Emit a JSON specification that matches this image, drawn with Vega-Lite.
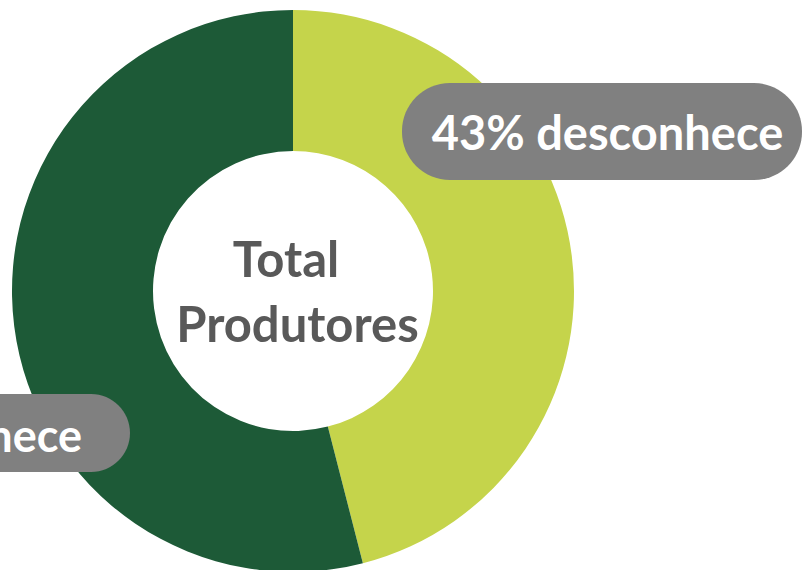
{
  "$schema": "https://vega.github.io/schema/vega-lite/v6.json",
  "width": 802,
  "height": 570,
  "autosize": {"type": "none"},
  "padding": 0,
  "background": "#ffffff",
  "config": {"view": {"stroke": null}},
  "data": {"values": [
    {"resposta": "desconhece", "valor": 46, "rotulo": "43% desconhece"},
    {"resposta": "conhece", "valor": 54, "rotulo": "57% conhece"}
  ]},
  "layer": [
    {
      "mark": {"type": "arc", "outerRadius": 281, "innerRadius": 140},
      "encoding": {
        "theta": {"field": "valor", "type": "quantitative", "stack": true},
        "order": {"field": "valor", "type": "quantitative", "sort": "ascending"},
        "color": {"field": "resposta", "type": "nominal", "legend": null,
          "scale": {"domain": ["desconhece", "conhece"], "range": ["#C5D44B", "#1D5A37"]}},
        "x": {"datum": 0, "type": "quantitative", "axis": null, "scale": {"domain": [-1.0427, 1.8114], "nice": false, "zero": false}},
        "y": {"datum": 0, "type": "quantitative", "axis": null, "scale": {"domain": [-0.9929, 1.0356], "nice": false, "zero": false}}
      }
    },
    {
      "transform": [{"filter": "datum.resposta === 'desconhece'"}],
      "mark": {"type": "rect", "color": "#808080", "cornerRadius": 48},
      "encoding": {
        "x": {"datum": 0.3879, "type": "quantitative"},
        "x2": {"datum": 1.8114},
        "y": {"datum": 0.7402, "type": "quantitative"},
        "y2": {"datum": 0.395}
      }
    },
    {
      "transform": [{"filter": "datum.resposta === 'desconhece'"}],
      "mark": {"type": "text", "color": "#ffffff", "font": "Lato", "fontWeight": "bold", "fontSize": 47, "letterSpacing": 0.8, "align": "center", "baseline": "alphabetic"},
      "encoding": {
        "x": {"datum": 1.1192, "type": "quantitative"},
        "y": {"datum": 0.5018, "type": "quantitative"},
        "text": {"field": "rotulo"}
      }
    },
    {
      "transform": [{"filter": "datum.resposta === 'conhece'"}],
      "mark": {"type": "rect", "color": "#808080", "cornerRadius": 39},
      "encoding": {
        "x": {"datum": -1.683, "type": "quantitative"},
        "x2": {"datum": -0.5801},
        "y": {"datum": -0.3665, "type": "quantitative"},
        "y2": {"datum": -0.6441}
      }
    },
    {
      "transform": [{"filter": "datum.resposta === 'conhece'"}],
      "mark": {"type": "text", "color": "#ffffff", "font": "Lato", "fontWeight": "bold", "fontSize": 45, "letterSpacing": 4.5, "align": "right", "baseline": "alphabetic"},
      "encoding": {
        "x": {"datum": -0.7509, "type": "quantitative"},
        "y": {"datum": -0.573, "type": "quantitative"},
        "text": {"field": "rotulo"}
      }
    },
    {
      "transform": [{"filter": "datum.resposta === 'conhece'"}],
      "mark": {"type": "text", "color": "#595959", "font": "Lato", "fontWeight": "bold", "fontSize": 49, "align": "center", "baseline": "alphabetic", "text": "Total"},
      "encoding": {
        "x": {"datum": -0.0249, "type": "quantitative"},
        "y": {"datum": 0.0498, "type": "quantitative"}
      }
    },
    {
      "transform": [{"filter": "datum.resposta === 'conhece'"}],
      "mark": {"type": "text", "color": "#595959", "font": "Lato", "fontWeight": "bold", "fontSize": 49, "letterSpacing": 1, "align": "center", "baseline": "alphabetic", "text": "Produtores"},
      "encoding": {
        "x": {"datum": 0.016, "type": "quantitative"},
        "y": {"datum": -0.1815, "type": "quantitative"}
      }
    }
  ]
}
